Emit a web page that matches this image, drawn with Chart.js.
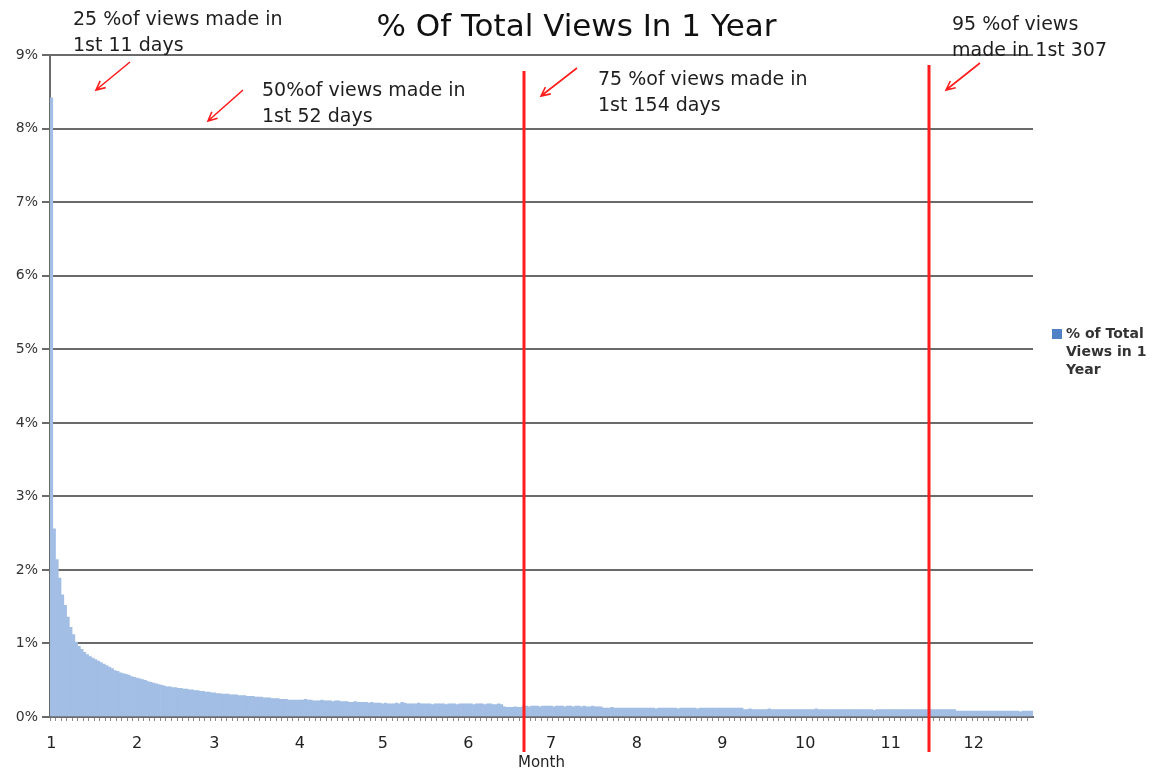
<!DOCTYPE html>
<html>
<head>
<meta charset="utf-8">
<script src="https://cdn.jsdelivr.net/npm/chart.js@4.4.1/dist/chart.umd.min.js"></script>
<style>
  html, body { margin: 0; padding: 0; background: #fff; }
  canvas { display: block; }
</style>
</head>
<body>
<canvas id="grafico" width="1153" height="772"></canvas>
<script>
// % of total views per day, one array per month
const m1 = [8.42, 2.56, 2.14, 1.89, 1.66, 1.52, 1.36, 1.22, 1.12, 1.02, 0.96, 0.92, 0.88, 0.85, 0.82, 0.80,
            0.78, 0.76, 0.74, 0.72, 0.70, 0.68, 0.66, 0.63, 0.62, 0.60, 0.59, 0.58, 0.57, 0.55, 0.54];
const m2 = [0.53, 0.52, 0.51, 0.50, 0.48, 0.47, 0.46, 0.45, 0.44, 0.43, 0.42, 0.41, 0.41, 0.40,
            0.40, 0.39, 0.39, 0.38, 0.38, 0.37, 0.37, 0.36, 0.36, 0.35, 0.35, 0.34, 0.34, 0.33];
const m3 = [0.33, 0.32, 0.32, 0.31, 0.31, 0.31, 0.30, 0.30, 0.30, 0.29, 0.29, 0.29, 0.28, 0.28, 0.28, 0.27,
            0.27, 0.27, 0.26, 0.26, 0.26, 0.25, 0.25, 0.25, 0.24, 0.24, 0.24, 0.23, 0.23, 0.23, 0.23];
const m4 = [0.23, 0.23, 0.24, 0.23, 0.23, 0.22, 0.22, 0.22, 0.23, 0.22, 0.22, 0.22, 0.21, 0.22, 0.22,
            0.21, 0.21, 0.21, 0.20, 0.20, 0.21, 0.20, 0.20, 0.20, 0.20, 0.19, 0.20, 0.19, 0.19, 0.19];
const m5 = [0.18, 0.19, 0.18, 0.18, 0.18, 0.19, 0.18, 0.20, 0.19, 0.18, 0.18, 0.18, 0.18, 0.19, 0.18, 0.18,
            0.18, 0.18, 0.17, 0.18, 0.18, 0.18, 0.18, 0.17, 0.18, 0.18, 0.18, 0.17, 0.18, 0.18, 0.18];
const m6 = [0.18, 0.18, 0.17, 0.18, 0.18, 0.18, 0.17, 0.18, 0.18, 0.17, 0.17, 0.18, 0.17, 0.14, 0.13,
            0.13, 0.13, 0.14, 0.13, 0.13, 0.15, 0.15, 0.14, 0.15, 0.15, 0.15, 0.14, 0.15, 0.15, 0.15];
const m7 = [0.15, 0.14, 0.15, 0.15, 0.15, 0.14, 0.15, 0.15, 0.14, 0.15, 0.15, 0.14, 0.15, 0.14, 0.14, 0.15,
            0.14, 0.14, 0.14, 0.12, 0.12, 0.12, 0.13, 0.12, 0.12, 0.12, 0.12, 0.12, 0.12, 0.12, 0.12];
const m8 = [0.12, 0.12, 0.12, 0.12, 0.12, 0.12, 0.12, 0.11, 0.12, 0.12, 0.12, 0.12, 0.12, 0.12, 0.12, 0.11,
            0.12, 0.12, 0.12, 0.12, 0.12, 0.12, 0.11, 0.12, 0.12, 0.12, 0.12, 0.12, 0.12, 0.12, 0.12];
const m9 = [0.12, 0.12, 0.12, 0.12, 0.12, 0.12, 0.12, 0.12, 0.10, 0.10, 0.11, 0.10, 0.10, 0.10, 0.10,
            0.10, 0.10, 0.11, 0.10, 0.10, 0.10, 0.10, 0.10, 0.10, 0.10, 0.10, 0.10, 0.10, 0.10, 0.10];
const m10 = [0.10, 0.10, 0.10, 0.10, 0.11, 0.10, 0.10, 0.10, 0.10, 0.10, 0.10, 0.10, 0.10, 0.10, 0.10, 0.10,
             0.10, 0.10, 0.10, 0.10, 0.10, 0.10, 0.10, 0.10, 0.10, 0.09, 0.10, 0.10, 0.10, 0.10, 0.10];
const m11 = [0.10, 0.10, 0.10, 0.10, 0.10, 0.10, 0.10, 0.10, 0.10, 0.10, 0.10, 0.10, 0.10, 0.10, 0.10,
             0.10, 0.10, 0.10, 0.10, 0.10, 0.10, 0.10, 0.10, 0.10, 0.08, 0.08, 0.08, 0.08, 0.08, 0.08];
const m12 = [0.08, 0.08, 0.08, 0.08, 0.08, 0.08, 0.08, 0.08, 0.08, 0.08, 0.08, 0.08, 0.08, 0.08, 0.08,
             0.08, 0.08, 0.07, 0.08, 0.08, 0.08, 0.08];

const meses = [m1, m2, m3, m4, m5, m6, m7, m8, m9, m10, m11, m12];
const mesLabels = ['1', '2', '3', '4', '5', '6', '7', '8', '9', '10', '11', '12'];
const yTicks = [0, 1, 2, 3, 4, 5, 6, 7, 8, 9];

// days where the red lines were drawn, and the hand notes
const markerDays = [172, 319];
const notas = [
    ['25 %of views made in', '1st 11 days'],
    ['50%of views made in', '1st 52 days'],
    ['75 %of views made in', '1st 154 days'],
    ['95 %of views', 'made in 1st 307']
];
const legendLines = ['% of Total', 'Views in 1', 'Year'];

const valores = [].concat(...meses);
const dias = valores.map((v, i) => i + 1);
const inicioMes = new Map();
let acc = 0;
meses.forEach((m, k) => { inicioMes.set(acc, mesLabels[k]); acc += m.length; });

// layout for the notes (pixels)
const notaPos = [[73, 20], [262, 91], [598, 80], [952, 25]];
const notaGap = 26;
const markerTop = [71, 65];
const setas = [[130, 62, 96, 90], [243, 90, 208, 121], [577, 68, 541, 96], [980, 63, 946, 90]];
const VERMELHO = '#ff1c1c';

function seta(ctx, x1, y1, x2, y2) {
    const ang = Math.atan2(y2 - y1, x2 - x1);
    const h = 10;
    ctx.beginPath();
    ctx.moveTo(x1, y1);
    ctx.lineTo(x2, y2);
    ctx.moveTo(x2 - h * Math.cos(ang - 0.45), y2 - h * Math.sin(ang - 0.45));
    ctx.lineTo(x2, y2);
    ctx.lineTo(x2 - h * Math.cos(ang + 0.45), y2 - h * Math.sin(ang + 0.45));
    ctx.stroke();
}

const notasPlugin = {
    id: 'notas',
    afterDraw(chart) {
        const ctx = chart.ctx;
        const x = chart.scales.x;
        ctx.save();
        // linhas vermelhas
        ctx.strokeStyle = VERMELHO;
        ctx.lineWidth = 3;
        markerDays.forEach((d, k) => {
            const px = Math.round(x.getPixelForValue(d - 1));
            ctx.beginPath();
            ctx.moveTo(px, markerTop[k]);
            ctx.lineTo(px, 752);
            ctx.stroke();
        });
        // setas
        ctx.lineWidth = 1.6;
        setas.forEach(s => seta(ctx, s[0], s[1], s[2], s[3]));
        // textos
        ctx.fillStyle = '#1e1e1e';
        ctx.font = '19px "DejaVu Sans"';
        ctx.textBaseline = 'middle';
        ctx.textAlign = 'left';
        notas.forEach((linhas, k) => {
            linhas.forEach((t, j) => ctx.fillText(t, notaPos[k][0], notaPos[k][1] + j * notaGap));
        });
        // legenda
        ctx.fillStyle = '#4f81c7';
        ctx.fillRect(1052, 329, 10, 10);
        ctx.fillStyle = '#333';
        ctx.font = 'bold 14px "DejaVu Sans"';
        legendLines.forEach((t, j) => ctx.fillText(t, 1066, 334 + j * 18));
        ctx.restore();
    }
};

const ctx = document.getElementById('grafico').getContext('2d');
const grafico = new Chart(ctx, {
    type: 'bar',
    data: {
        labels: dias,
        datasets: [{
            label: '% of Total Views in 1 Year',
            data: valores,
            backgroundColor: '#a2bee4',
            borderWidth: 0,
            barPercentage: 1,
            categoryPercentage: 1
        }]
    },
    options: {
        responsive: false,
        animation: false,
        devicePixelRatio: 1,
        layout: {padding: 0},
        plugins: {
            legend: {display: false},
            tooltip: {enabled: false},
            title: {
                display: true,
                text: '% Of Total Views In 1 Year',
                color: '#111',
                font: {family: 'DejaVu Sans', size: 31, weight: 'normal'},
                padding: {top: 9, bottom: 9}
            }
        },
        scales: {
            x: {
                ticks: {
                    autoSkip: false,
                    maxRotation: 0,
                    minRotation: 0,
                    padding: 13,
                    color: '#222',
                    font: {family: 'DejaVu Sans', size: 16},
                    callback: (v, i) => inicioMes.has(i) ? inicioMes.get(i) : ''
                },
                grid: {
                    drawOnChartArea: false,
                    drawTicks: true,
                    tickLength: 4,
                    color: (c) => c.index % 2 === 0 ? '#8a8a8a' : 'rgba(0,0,0,0)'
                },
                border: {display: true, color: '#6a6a6a', width: 2},
                title: {
                    display: true,
                    text: 'Month',
                    color: '#222',
                    font: {family: 'DejaVu Sans', size: 15},
                    padding: {top: 0, bottom: 0}
                },
                afterFit: (s) => { s.height = 55; }
            },
            y: {
                min: 0,
                max: 9,
                afterBuildTicks: (s) => { s.ticks = yTicks.map(v => ({value: v})); },
                ticks: {
                    padding: 4,
                    color: '#333',
                    font: {family: 'DejaVu Sans', size: 14},
                    callback: (v) => v + '%'
                },
                grid: {color: '#6a6a6a', lineWidth: 2, tickLength: 8},
                border: {display: true, color: '#6a6a6a', width: 2},
                afterFit: (s) => { s.width = 50; }
            },
            margem: {
                type: 'linear',
                position: 'right',
                display: true,
                ticks: {display: false},
                grid: {display: false},
                border: {display: false},
                afterFit: (s) => { s.width = 120; }
            }
        }
    },
    plugins: [notasPlugin]
});
</script>
</body>
</html>
